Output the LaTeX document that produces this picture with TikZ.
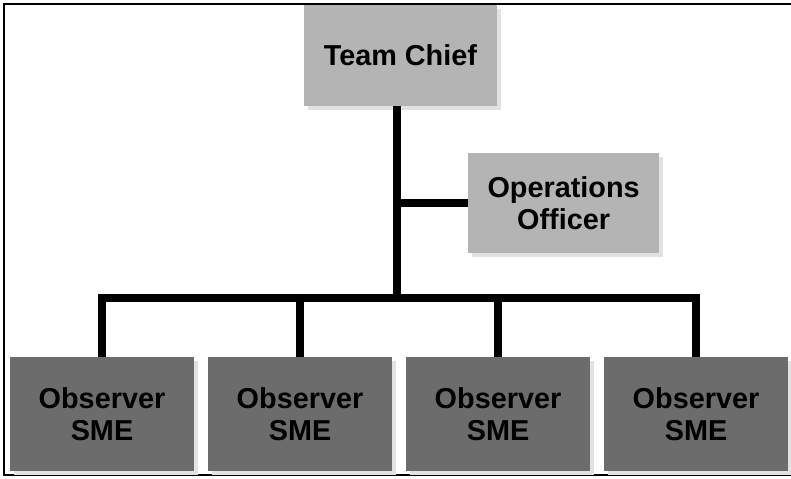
\documentclass[tikz,border=0pt]{standalone}
\usepackage{fontspec}
\setmainfont{Liberation Sans}
\usepackage{tikz}
\usetikzlibrary{positioning}
\usetikzlibrary{shadows}
\definecolor{lightbox}{RGB}{180,180,180}
\definecolor{darkbox}{RGB}{108,108,108}
\definecolor{shade}{RGB}{226,226,226}
\tikzset{
every box/.style={ % Sets the properties for each box
rectangle,
draw=none,
align=center,
font=\bfseries\fontsize{20.5}{23}\selectfont,
drop shadow={shadow xshift=0.1cm, shadow yshift=-0.1cm, fill=shade, opacity=1}},
staff/.style={every box, fill=lightbox},
observer/.style={every box, fill=darkbox,
minimum width=4.6cm, minimum height=2.85cm},
link/.style={ % Sets the properties for each connector
draw,
line width=0.19cm}}

\begin{document}
\begin{tikzpicture}
	\useasboundingbox (0,0) rectangle (19.775,-11.95);
	\draw[line width=0.05cm] (19.9,-0.1) -- (0.1,-0.1) -- (0.1,-11.88) -- (19.9,-11.88);
	\node[staff, minimum width=4.825cm, minimum height=2.525cm] (chief) at (10.01,-1.39) {Team Chief};
	\node[staff, minimum width=4.775cm, minimum height=2.5cm] (ops) at (14.09,-5.075) {Operations\\Officer};
	\node[observer] (obs1) at (2.55,-10.35) {Observer\\SME};
	\node[observer] (obs2) at (7.5,-10.35) {Observer\\SME};
	\node[observer] (obs3) at (12.45,-10.35) {Observer\\SME};
	\node[observer] (obs4) at (17.4,-10.35) {Observer\\SME};
	\coordinate (hub) at (9.93,-7.45);
	\draw[link] (chief.south -| hub) -- (hub);
	\draw[link] (ops.west) -- (ops.west -| hub);
	\draw[link] (obs1.north) -- (obs1.north |- hub) -- (obs4.north |- hub) -- (obs4.north);
	\foreach \i in {2,3}
		\draw[link] (obs\i.north) -- (obs\i.north |- hub);
\end{tikzpicture}
\end{document}
